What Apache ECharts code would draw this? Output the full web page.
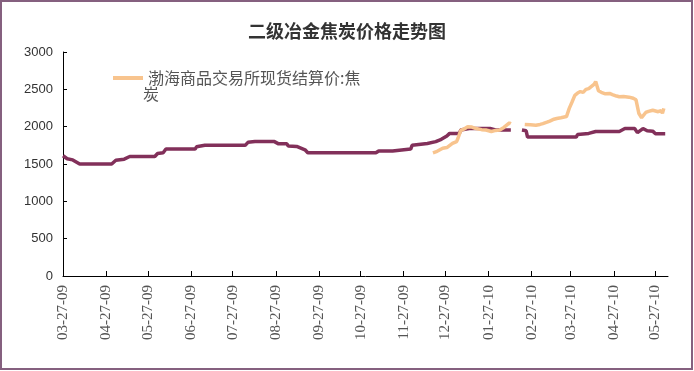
<!DOCTYPE html>
<html>
<head>
<meta charset="utf-8">
<script src="https://cdn.jsdelivr.net/npm/echarts@6/dist/echarts.min.js"></script>
<style>html,body{margin:0;padding:0;background:#fff}#c{width:694px;height:371px}</style>
</head>
<body>
<div id="c"></div>
<script>
var titleText = '二级冶金焦炭价格走势图';
var orangeName = '渤海商品交易所现货结算价:焦炭';
var purpleName = '二级冶金焦:价格';
var tickDates = ['2009-03-27','2009-04-27','2009-05-27','2009-06-27','2009-07-27','2009-08-27','2009-09-27','2009-10-27','2009-11-27','2009-12-27','2010-01-27','2010-02-27','2010-03-27','2010-04-27','2010-05-27'];
var yTicks = [0, 500, 1000, 1500, 2000, 2500, 3000];

var purpleDates = ['2009-03-27','2009-03-30','2009-04-03','2009-04-08','2009-05-01','2009-05-04','2009-05-10','2009-05-14','2009-06-01','2009-06-03','2009-06-07','2009-06-09','2009-06-30','2009-07-01','2009-07-07','2009-08-05','2009-08-07','2009-08-12','2009-08-26','2009-08-29','2009-09-04','2009-09-05','2009-09-11','2009-09-17','2009-09-19','2009-11-07','2009-11-09','2009-11-19','2009-11-20','2009-12-02','2009-12-03','2009-12-14','2009-12-20','2009-12-24','2009-12-28','2009-12-30','2010-01-06','2010-01-07','2010-01-13','2010-01-28','2010-02-01','2010-02-12','2010-02-16','2010-02-20','2010-02-23','2010-02-24','2010-03-31','2010-04-01','2010-04-09','2010-04-14','2010-05-01','2010-05-05','2010-05-12','2010-05-14','2010-05-18','2010-05-21','2010-05-25','2010-05-27','2010-06-03'];
var purpleValues = [1610,1570,1555,1500,1500,1550,1565,1600,1600,1640,1650,1700,1700,1730,1750,1750,1790,1800,1800,1770,1770,1740,1735,1690,1650,1650,1675,1675,1700,1700,1750,1775,1800,1830,1875,1910,1910,1955,1975,1975,1955,1955,null,1955,1945,1860,1860,1895,1910,1935,1935,1975,1975,1920,1975,1945,1940,1905,1905];

var orangeDates = ['2009-12-18','2009-12-21','2009-12-25','2009-12-28','2010-01-01','2010-01-04','2010-01-05','2010-01-07','2010-01-10','2010-01-12','2010-01-15','2010-01-18','2010-01-22','2010-01-25','2010-01-29','2010-02-01','2010-02-04','2010-02-07','2010-02-09','2010-02-11','2010-02-12','2010-02-17','2010-02-22','2010-02-26','2010-03-02','2010-03-05','2010-03-07','2010-03-10','2010-03-12','2010-03-15','2010-03-17','2010-03-20','2010-03-24','2010-03-26','2010-03-28','2010-03-30','2010-04-01','2010-04-03','2010-04-05','2010-04-07','2010-04-09','2010-04-11','2010-04-13','2010-04-14','2010-04-16','2010-04-18','2010-04-21','2010-04-24','2010-04-26','2010-04-29','2010-05-01','2010-05-04','2010-05-08','2010-05-11','2010-05-13','2010-05-15','2010-05-17','2010-05-18','2010-05-20','2010-05-22','2010-05-25','2010-05-27','2010-05-29','2010-05-31','2010-06-01','2010-06-02'];
var orangeValues = [1650,1670,1710,1720,1775,1800,1845,1950,1975,2000,1995,1975,1960,1955,1935,1950,1955,1990,2020,2050,2040,null,2030,2025,2020,2030,2040,2060,2075,2100,2110,2120,2135,2245,2330,2420,2450,2470,2460,2500,2510,2540,2570,2605,2480,2460,2440,2445,2430,2410,2400,2405,2395,2380,2360,2180,2120,2110,2190,2205,2220,2210,2200,2215,2180,2245];

function toTs(s){ var p = s.split('-'); return Date.UTC(+p[0], +p[1]-1, +p[2]); }
function pairs(d, v){ return d.map(function(x, i){ return [toTs(x), v[i] === null ? '-' : v[i]]; }); }
function pad(n){ return (n < 10 ? '0' : '') + n; }

var chart = echarts.init(document.getElementById('c'));
chart.setOption({
  animation: false,
  backgroundColor: '#fff',
  title: {
    text: titleText, left: 'center', top: 17,
    textStyle: { fontFamily: 'Noto Sans CJK SC', fontSize: 18, fontWeight: 'bold', color: '#333' }
  },
  legend: {
    data: [orangeName], left: 108, top: 65, icon: 'rect', itemWidth: 30, itemHeight: 4, itemGap: 4,
    formatter: function(){ return '渤海商品交易所现货结算价:焦'; },
    textStyle: { fontFamily: 'Noto Sans CJK SC', fontSize: 16, color: '#555' }
  },
  graphic: [
    { type: 'text', left: 143, top: 86, style: { text: '炭', font: '16px "Noto Sans CJK SC"', fill: '#555' } },
    { type: 'rect', shape: { x: 1, y: 1, width: 691, height: 368 }, style: { fill: 'none', stroke: '#85607f', lineWidth: 2 } }
  ],
  grid: { left: 63, right: 26, top: 52, bottom: 95 },
  xAxis: {
    type: 'value', min: toTs('2009-03-27'), max: toTs('2010-06-05'),
    axisLine: { lineStyle: { color: '#000', width: 1 } },
    axisTick: { show: true, inside: true, length: 5, customValues: tickDates.map(toTs), lineStyle: { color: '#000' } },
    axisLabel: {
      customValues: tickDates.map(toTs), rotate: 90, margin: 9,
      fontFamily: 'Liberation Serif', fontSize: 15, color: '#555',
      formatter: function(v){ var d = new Date(v); return pad(d.getUTCMonth()+1) + '-' + pad(d.getUTCDate()) + '-' + pad(d.getUTCFullYear() % 100); }
    },
    splitLine: { show: false }
  },
  yAxis: {
    type: 'value', min: yTicks[0], max: yTicks[yTicks.length-1], interval: 500,
    axisLine: { show: true, lineStyle: { color: '#000', width: 1 } },
    axisTick: { show: true, inside: true, length: 4, lineStyle: { color: '#000' } },
    axisLabel: { fontFamily: 'Liberation Sans', fontSize: 13, color: '#333', margin: 10, formatter: function(v){ return String(v); } },
    splitLine: { show: false }
  },
  series: [
    { name: purpleName, type: 'line', data: pairs(purpleDates, purpleValues), showSymbol: false, symbol: 'none',
      lineStyle: { color: '#82305a', width: 3.5 }, itemStyle: { color: '#82305a' }, connectNulls: false },
    { name: orangeName, type: 'line', data: pairs(orangeDates, orangeValues), showSymbol: false, symbol: 'none',
      lineStyle: { color: '#f8c48e', width: 3.5 }, itemStyle: { color: '#f8c48e' }, connectNulls: false }
  ]
});
</script>
</body>
</html>
